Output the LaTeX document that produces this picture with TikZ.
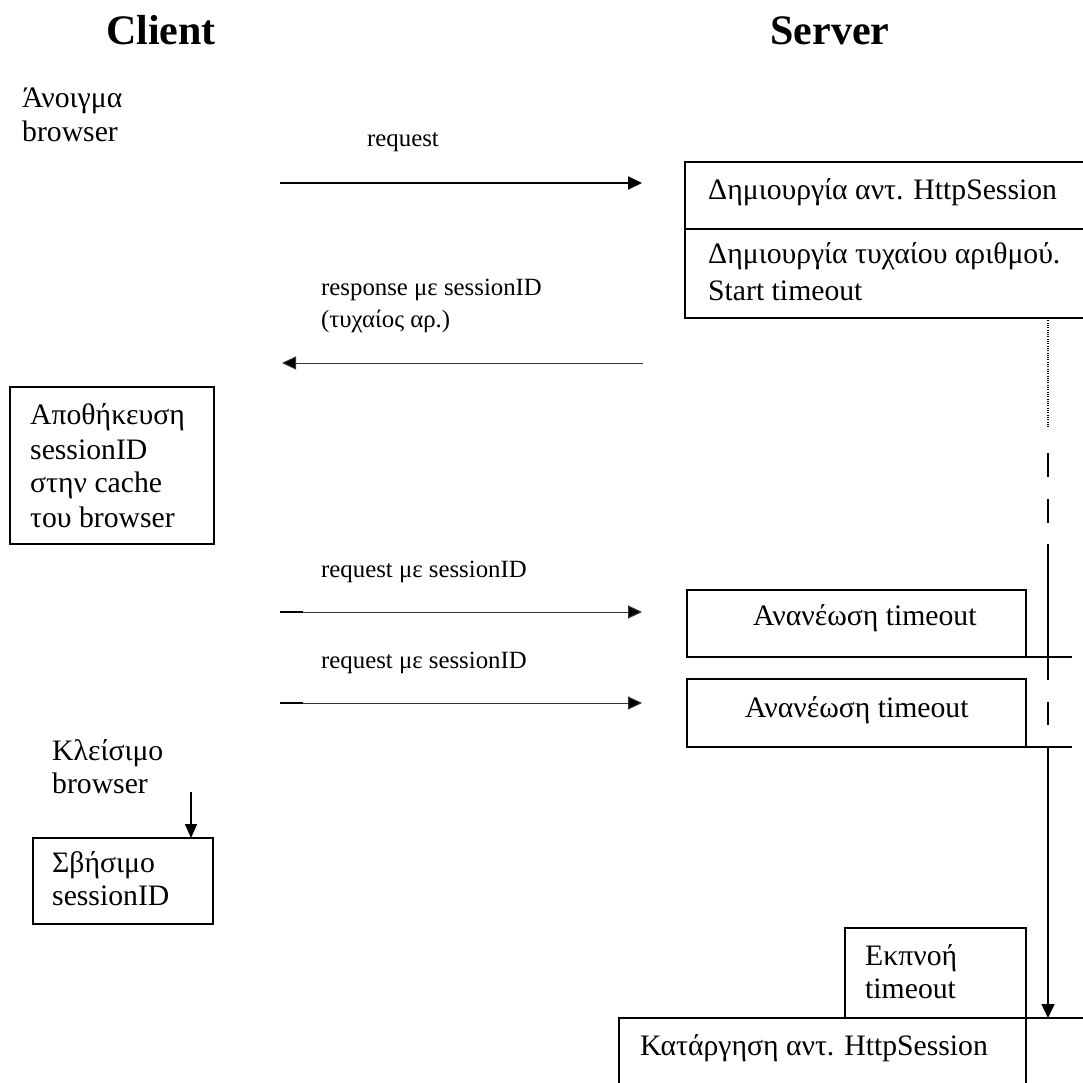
\documentclass[tikz,border=0pt]{standalone}
\usepackage{fontspec}
\setmainfont{Liberation Serif}
\usetikzlibrary{arrows.meta,calc}
\begin{document}
\begin{tikzpicture}[x=1pt,y=-1pt,
  txt/.style={anchor=base west,inner sep=0pt,font=\fontsize{29.7}{34}\selectfont},
  small/.style={anchor=base west,inner sep=0pt,font=\fontsize{24.8}{29}\selectfont},
  ttl/.style={anchor=base,inner sep=0pt,font=\fontsize{42}{50}\selectfont\bfseries},
  box/.style={draw,line width=1.5pt,anchor=north west,inner sep=0pt,outer sep=0pt},
  boldarrow/.style={line width=2pt,-{Triangle[length=14pt,width=13pt]}},
  thinarrow/.style={line width=1pt,draw=black!80,-{Triangle[length=14pt,width=13pt,fill=black]}},
  life/.style={line width=1.5pt},
  lifedot/.style={line width=1.1pt,dash pattern=on 1pt off 1.3pt}
]
\path[use as bounding box,clip] (0,0) rectangle (1083,1083);

% titles
\node[ttl] (tclient) at (161,45) {Client};
\node[ttl] (tserver) at (830,45) {Server};

% client side texts
\node[txt] (open1) at (22,108) {Άνοιγμα};
\node[txt] (open2) at (22,142) {browser};

% server boxes
\node[box,minimum width=420pt,minimum height=67pt] (create) at (685,162) {};
\node[box,minimum width=420pt,minimum height=89pt] (rand) at (685,229) {};
\node[txt] (createT) at (708,200) {Δημιουργία αντ. HttpSession};
\node[txt] (randT1) at (708,263) {Δημιουργία τυχαίου αριθμού.};
\node[txt] (randT2) at (708,300) {Start timeout};

% request arrow
\node[small] (reqL) at (367,147) {request};
\coordinate (a1s) at (280,183);
\coordinate (a1e) at (642,183);
\draw[boldarrow] (a1s) -- (a1e);

% response arrow
\node[small] (respL1) at (321,295) {response με sessionID};
\node[small] (respL2) at (321,327) {(τυχαίος αρ.)};
\coordinate (a2s) at (643,363);
\coordinate (a2e) at (282,363);
\draw[thinarrow] (a2s) -- (a2e);

% store box
\node[box,minimum width=204pt,minimum height=157pt] (store) at (10,387) {};
\node[txt] (storeT1) at (30,424) {Αποθήκευση};
\node[txt] (storeT2) at (30,459) {sessionID};
\node[txt] (storeT3) at (30,492) {στην cache};
\node[txt] (storeT4) at (30,527) {του browser};

% request with sessionID 1
\node[small] (req2L) at (321,577) {request με sessionID};
\coordinate (a3s) at (280,612);
\coordinate (a3e) at (642,612);
\draw[thinarrow] (a3s) -- (a3e);
\draw[line width=1.8pt] (a3s) -- ++(23,0);
\node[box,minimum width=339pt,minimum height=67pt] (renew1) at (687,590) {};
\node[txt] (renew1T) at (753,625) {Ανανέωση timeout};
\draw[line width=1.5pt] (renew1.south east) -- ++(46,0);

% request with sessionID 2
\node[small] (req3L) at (321,668) {request με sessionID};
\coordinate (a4s) at (280,703);
\coordinate (a4e) at (642,703);
\draw[thinarrow] (a4s) -- (a4e);
\draw[line width=1.8pt] (a4s) -- ++(23,0);
\node[box,minimum width=339pt,minimum height=68pt] (renew2) at (687,679) {};
\node[txt] (renew2T) at (745,717) {Ανανέωση timeout};
\draw[line width=1.5pt] (renew2.south east) -- ++(46,0);

% closing browser
\node[txt] (close1) at (52,760) {Κλείσιμο};
\node[txt] (close2) at (52,793) {browser};
\node[box,minimum width=180pt,minimum height=86pt] (erase) at (33,838) {};
\node[txt] (eraseT1) at (52,872) {Σβήσιμο};
\node[txt] (eraseT2) at (52,905) {sessionID};
\coordinate (a5s) at (191,792);
\draw[line width=1.5pt,-{Triangle[length=14pt,width=12pt]}] (a5s) -- ($(erase.north west)+(158,0)$);

% expiry and removal
\node[box,minimum width=181pt,minimum height=90pt] (expire) at (845,928) {};
\node[txt] (expireT1) at (865,965) {Εκπνοή};
\node[txt] (expireT2) at (865,998) {timeout};
\node[box,minimum width=407pt,minimum height=100pt] (remove) at (619,1018) {};
\node[txt] (removeT) at (640,1055) {Κατάργηση αντ. HttpSession};
\draw[line width=1.5pt] (remove.north east) -- ++(70,0);

% lifeline
\coordinate (l0) at (1048,318);
\coordinate (l1) at (1048,428);
\draw[lifedot] (l0) -- (l1);
\draw[life] (1048,453) -- (1048,477);
\draw[life] (1048,499) -- (1048,523);
\draw[life] (1048,544) -- (1048,680);
\draw[life] (1048,702) -- (1048,725);
\coordinate (l2) at (1048,748);
\draw[life,-{Triangle[length=14pt,width=13pt]}] (l2) -- (remove.north east -| l2);
\end{tikzpicture}
\end{document}
